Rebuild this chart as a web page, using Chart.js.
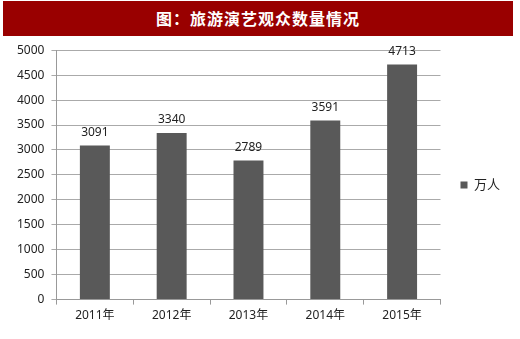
<!DOCTYPE html>
<html>
<head>
<meta charset="utf-8">
<script src="https://cdn.jsdelivr.net/npm/chart.js@4"></script>
<style>
  body { margin: 0; background: #fff; width: 520px; height: 339px; overflow: hidden; }
  #banner {
    position: absolute; left: 3px; top: 1px; width: 510px; height: 35px;
    background: #990000; color: #fff; text-align: center;
    font: bold 16px "Noto Sans CJK SC", serif; line-height: 35px; letter-spacing: 1px;
  }
  #wrap { position: absolute; left: 0; top: 36px; width: 520px; height: 303px; }
</style>
</head>
<body>
<div id="banner">图：旅游演艺观众数量情况</div>
<div id="wrap"><canvas id="chart"></canvas></div>
<script>
const years = ["2011年", "2012年", "2013年", "2014年", "2015年"];
const visitors = [3091, 3340, 2789, 3591, 4713];
const seriesName = "万人";

const FONT = "'Noto Sans', 'Noto Sans CJK SC', sans-serif";

// numbers above each bar
const barLabels = {
  id: "barLabels",
  afterDatasetsDraw(chart) {
    const ctx = chart.ctx;
    const meta = chart.getDatasetMeta(0);
    ctx.save();
    ctx.fillStyle = "#222";
    ctx.font = "12px " + FONT;
    ctx.textAlign = "center";
    ctx.textBaseline = "bottom";
    meta.data.forEach((bar, i) => {
      ctx.fillText(visitors[i], bar.x, bar.y - 7);
    });
    ctx.restore();
  },
};

new Chart(document.getElementById("chart"), {
  type: "bar",
  data: {
    labels: years,
    datasets: [
      {
        label: seriesName,
        data: visitors,
        backgroundColor: "#595959",
        barPercentage: 0.39,
        categoryPercentage: 1,
      },
    ],
  },
  options: {
    responsive: true,
    maintainAspectRatio: false,
    animation: false,
    layout: { padding: { top: 7, left: 10, right: 10, bottom: 12 } },
    plugins: {
      tooltip: { enabled: false },
      legend: {
        position: "right",
        labels: {
          boxWidth: 7,
          boxHeight: 7,
          padding: 20,
          color: "#222",
          font: { size: 13, family: FONT },
        },
      },
    },
    scales: {
      x: {
        grid: { drawOnChartArea: false, offset: true, tickLength: 5, color: "#999" },
        border: { color: "#999" },
        ticks: { color: "#222", font: { size: 12, family: FONT }, padding: 4 },
      },
      y: {
        min: 0,
        max: 5000,
        grid: { color: "#aaa", tickLength: 5 },
        border: { color: "#999" },
        ticks: {
          stepSize: 500,
          color: "#222",
          font: { size: 12, family: FONT },
          padding: 7,
          callback: (v) => String(v),
        },
      },
    },
  },
  plugins: [barLabels],
});
</script>
</body>
</html>
